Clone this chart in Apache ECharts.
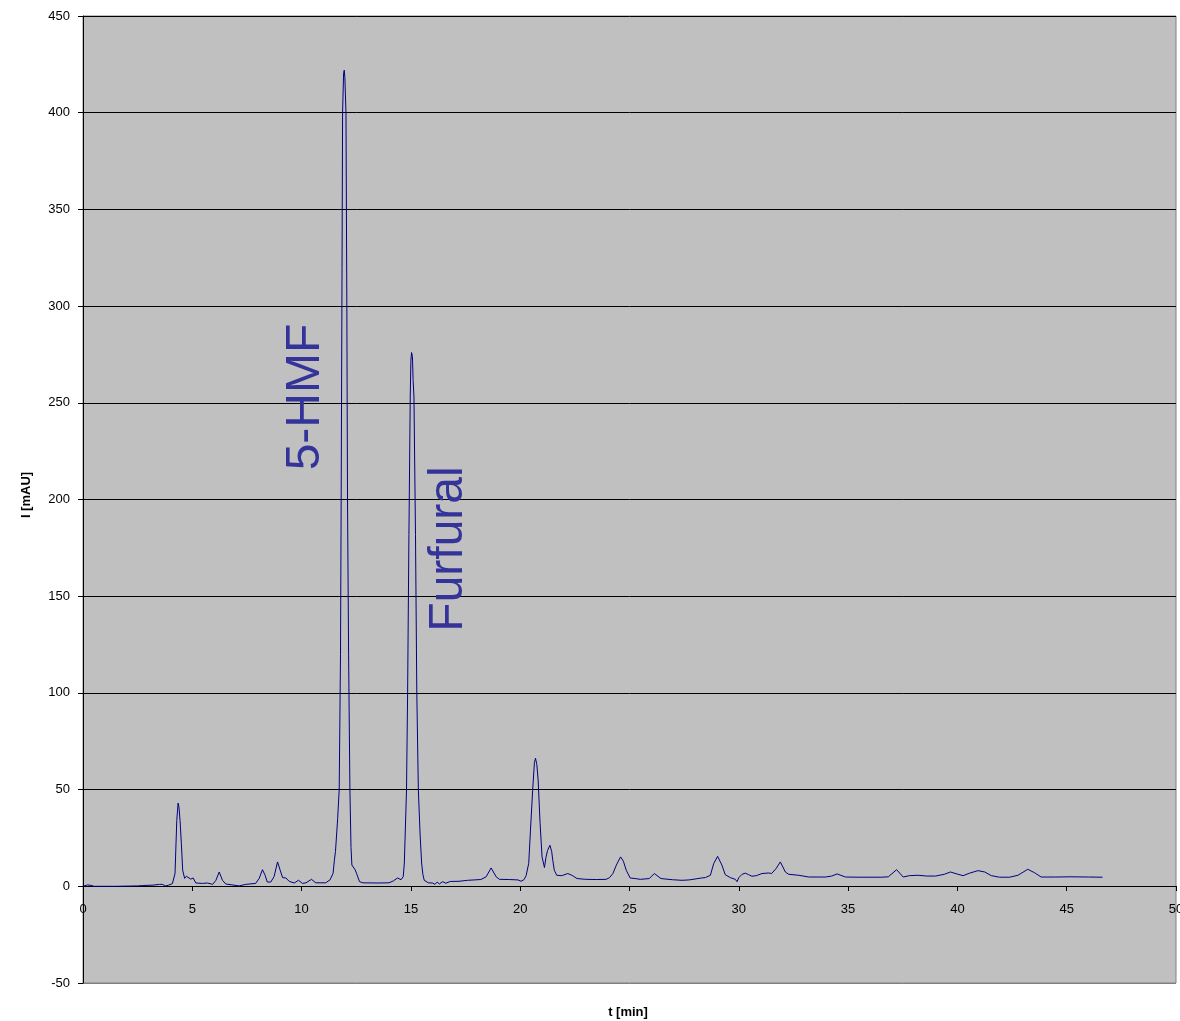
<!DOCTYPE html>
<html>
<head>
<meta charset="utf-8">
<script src="https://cdn.jsdelivr.net/npm/echarts@6/dist/echarts.min.js"></script>
<style>
html,body{margin:0;padding:0;background:#fff;}
#chart{width:1180px;height:1021px;}
</style>
</head>
<body>
<div id="chart"></div>
<script>
// retention time [min]
var timeMin = [
 0, 0.05, 0.2, 0.37, 0.5, 1.5, 2.5, 2.72, 3.2, 3.5, 3.63, 3.78, 3.9, 4.09, 4.21, 4.29, 4.35, 4.39, 4.44, 4.5,
 4.56, 4.65, 4.73, 4.82, 4.93, 5.04, 5.16, 5.46, 5.69, 5.93, 6.08, 6.23, 6.38, 6.53, 7.14, 7.45, 7.9, 8.06, 8.21, 8.33,
 8.43, 8.59, 8.74, 8.9, 9.02, 9.13, 9.28, 9.43, 9.66, 9.86, 10.04, 10.2, 10.45, 10.65, 11.1, 11.3, 11.44, 11.5, 11.55, 11.65,
 11.72, 11.78, 11.81, 11.85, 11.875, 11.92, 11.95, 11.98, 12.03, 12.07, 12.1, 12.15, 12.21, 12.26, 12.3, 12.36, 12.45, 12.52, 12.65, 12.8,
 13.5, 14.0, 14.2, 14.39, 14.55, 14.65, 14.7, 14.8, 14.85, 14.91, 14.97, 15.0, 15.03, 15.07, 15.1, 15.14, 15.21, 15.27, 15.34, 15.42,
 15.49, 15.55, 15.61, 15.8, 16.0, 16.1, 16.2, 16.3, 16.45, 16.6, 16.8, 17.2, 17.6, 18.2, 18.44, 18.67, 18.9, 19.05, 19.5, 19.9,
 20.04, 20.18, 20.27, 20.39, 20.47, 20.57, 20.65, 20.7, 20.76, 20.82, 20.91, 21.0, 21.11, 21.18, 21.25, 21.36, 21.44, 21.49, 21.56, 21.67,
 21.9, 22.18, 22.4, 22.6, 23.0, 23.5, 23.93, 24.09, 24.24, 24.4, 24.59, 24.72, 24.85, 25.03, 25.26, 25.5, 25.9, 26.14, 26.44, 26.97,
 27.4, 27.73, 28.3, 28.47, 28.7, 28.85, 29.03, 29.23, 29.38, 29.61, 29.84, 29.92, 30.0, 30.15, 30.3, 30.45, 30.6, 30.8, 31.06, 31.37,
 31.5, 31.7, 31.9, 32.13, 32.28, 32.74, 33.2, 33.96, 34.25, 34.5, 34.88, 35.5, 36.5, 36.84, 37.22, 37.52, 37.8, 38.2, 38.6, 39.0,
 39.4, 39.68, 40.03, 40.26, 40.56, 40.94, 41.25, 41.55, 41.93, 42.39, 42.77, 43.22, 43.53, 43.83, 44.5, 45.2, 46.0, 46.64
];
// absorbance [mAU]
var intensity = [
 0, 0.6, 0.7, 0.5, 0, 0, 0.2, 0.4, 0.6, 1.0, 1.0, 0.2, 0.5, 1.4, 6.6, 34, 43, 41, 34, 22,
 8.3, 4.1, 5.2, 4.5, 3.7, 4.3, 1.7, 1.5, 1.7, 1.0, 3.1, 7.4, 3.1, 1.2, 0.2, 1.0, 1.5, 4.1, 8.6, 5.7,
 2.2, 2.2, 5.0, 12.6, 8.3, 4.5, 4.3, 2.6, 1.7, 3.1, 1.5, 1.8, 3.6, 1.8, 1.8, 3.3, 6.7, 13.5, 18, 35,
 50, 120, 200, 320, 400, 420, 422, 418, 400, 300, 200, 120, 50, 20, 11, 10, 8.5, 6.5, 2.4, 1.8,
 1.7, 1.8, 2.8, 4.3, 3.4, 5, 12, 50, 100, 182, 253, 272, 276, 274, 262, 253, 182, 100, 50, 27,
 12, 6, 3.1, 1.8, 1.7, 1.0, 2.2, 1.2, 2.4, 1.6, 2.5, 2.6, 3.1, 3.5, 4.9, 9.5, 4.9, 3.6, 3.5, 3.3,
 2.6, 3.5, 5.5, 11.9, 29, 49.7, 64, 66.2, 63, 55, 32.6, 15.2, 9.7, 15, 18.5, 21.2, 18, 13.5, 8.3, 5.7,
 5.5, 6.6, 5.5, 4.0, 3.6, 3.5, 3.6, 4.5, 6.6, 11, 15.2, 13, 8.3, 4.3, 4.0, 3.6, 4.0, 6.6, 4.0, 3.4,
 3.1, 3.3, 4.3, 4.5, 5.7, 11.7, 15.5, 10.9, 6, 4.5, 3.6, 2.4, 4.5, 6.2, 6.8, 6.0, 5.2, 5.5, 6.6, 6.9,
 6.6, 9.1, 12.6, 7.4, 6.2, 5.7, 4.8, 4.8, 5.3, 6.4, 4.8, 4.7, 4.7, 4.9, 8.6, 4.8, 5.5, 5.7, 5.3, 5.3,
 6.2, 7.4, 6.2, 5.5, 6.8, 8.1, 7.4, 5.5, 4.7, 4.7, 5.7, 8.8, 7.0, 4.8, 4.8, 4.9, 4.8, 4.7
];
var xTicks = [0, 5, 10, 15, 20, 25, 30, 35, 40, 45, 50];
var yTicks = [-50, 0, 50, 100, 150, 200, 250, 300, 350, 400, 450];
var peakNames = ['5-HMF', 'Furfural'];
var xAxisTitle = 't [min]';
var yAxisTitle = 'I [mAU]';

var seriesData = timeMin.map(function (t, i) { return [t, intensity[i]]; });

var chart = echarts.init(document.getElementById('chart'), null, {renderer: 'canvas'});
var font = 'Liberation Sans, Arial, sans-serif';
var splitColors = yTicks.map(function (v, i) { return i === 0 ? '#808080' : '#000000'; });

chart.setOption({
  animation: false,
  backgroundColor: '#ffffff',
  grid: {
    left: 83, top: 16, right: 4, bottom: 38,
    containLabel: false, outerBoundsMode: 'none',
    show: true, backgroundColor: '#c0c0c0', borderColor: '#808080', borderWidth: 1
  },
  xAxis: {
    type: 'value',
    min: xTicks[0], max: xTicks[xTicks.length - 1], interval: 5,
    offset: -97,
    axisLine: {show: true, onZero: false, lineStyle: {color: '#000', width: 1}},
    axisTick: {show: true, length: 5, lineStyle: {color: '#000'}},
    axisLabel: {color: '#000', fontFamily: font, fontSize: 13, margin: 17},
    splitLine: {show: false}
  },
  yAxis: {
    type: 'value',
    min: yTicks[0], max: yTicks[yTicks.length - 1], interval: 50,
    axisLine: {show: true, onZero: false, lineStyle: {color: '#000', width: 1}},
    axisTick: {show: true, length: 5, lineStyle: {color: '#000'}},
    axisLabel: {color: '#000', fontFamily: font, fontSize: 13, margin: 13},
    splitLine: {show: true, lineStyle: {color: splitColors, width: 1}}
  },
  series: [{
    type: 'line',
    data: seriesData,
    showSymbol: false,
    smooth: false,
    lineStyle: {color: '#000080', width: 1},
    z: 5
  }],
  graphic: [
    {type: 'text', x: 306, y: 397, rotation: Math.PI / 2,
     style: {text: peakNames[0], fill: '#333399', font: '48px ' + font, textAlign: 'center', textVerticalAlign: 'middle'}, z: 10},
    {type: 'text', x: 449, y: 549, rotation: Math.PI / 2,
     style: {text: peakNames[1], fill: '#333399', font: '48px ' + font, textAlign: 'center', textVerticalAlign: 'middle'}, z: 10},
    {type: 'text', x: 26, y: 495, rotation: Math.PI / 2,
     style: {text: yAxisTitle, fill: '#000', font: 'bold 13px ' + font, textAlign: 'center', textVerticalAlign: 'middle'}},
    {type: 'text', x: 628, y: 1012,
     style: {text: xAxisTitle, fill: '#000', font: 'bold 13px ' + font, textAlign: 'center', textVerticalAlign: 'middle'}}
  ]
});
</script>
</body>
</html>
